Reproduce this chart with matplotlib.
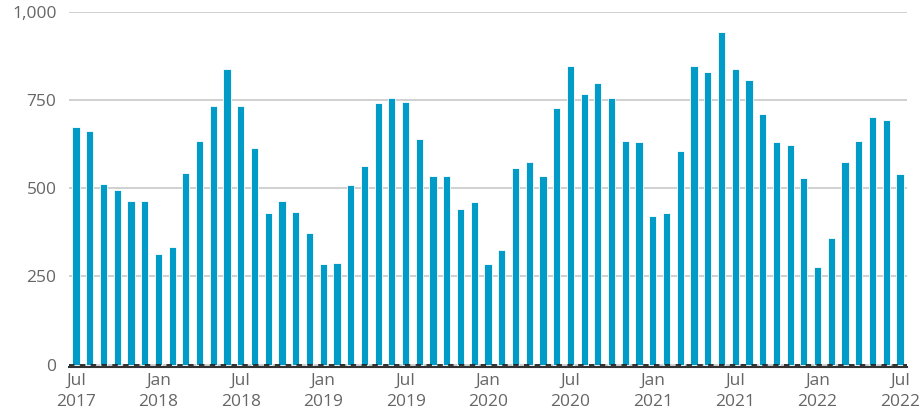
import numpy as np
import matplotlib.pyplot as plt

# Monthly values, Jul 2017 .. Jul 2022
months = ['Jul', 'Aug', 'Sep', 'Oct', 'Nov', 'Dec',
          'Jan', 'Feb', 'Mar', 'Apr', 'May', 'Jun']
start_year = 2017
values = [675, 662, 513, 496, 465, 465,
          314, 332, 544, 635, 733, 839,
          733, 614, 430, 465, 434, 372,
          285, 289, 509, 562, 741, 755,
          746, 641, 535, 535, 442, 460,
          284, 324, 557, 575, 535, 729,
          847, 768, 799, 755, 635, 632,
          420, 429, 605, 847, 830, 944,
          839, 808, 711, 632, 623, 530,
          276, 359, 575, 635, 703, 694,
          540]
yticks = [0, 250, 500, 750, 1000]

bar_color = '#009cc7'
text_color = '#666666'

plt.rcParams['font.family'] = ['Open Sans', 'DejaVu Sans']

fig = plt.figure(figsize=(9.21, 4.15), dpi=100)
ax = fig.add_axes([69/921, 1 - 367/415, (907 - 69)/921, (367 - 12)/415])

x = np.arange(len(values))
ax.bar(x, values, width=0.52, color=bar_color, edgecolor='white',
       linewidth=0.6, zorder=2)
ax.axhline(0, color='#222222', lw=1.3, ls=(0, (3, 3)), zorder=3)

ax.set_xlim(-0.51, len(values) - 0.49)
ax.set_ylim(-7, 1000)
ax.set_yticks(yticks)
ax.set_yticklabels(['{:,}'.format(v) for v in yticks])
ax.yaxis.grid(True, color='#c8c8c8', lw=1.2, zorder=0)
ax.set_axisbelow(True)

# ticks every 6 months
tick_pos = x[::6]
tick_lab = []
for i in tick_pos:
    year = start_year + (i + 6) // 12
    tick_lab.append('%s\n%d' % (months[i % 12], year))
ax.set_xticks(tick_pos)
ax.set_xticklabels(tick_lab, linespacing=1.45)

ax.tick_params(axis='both', length=0, labelsize=12.5, colors=text_color)
ax.tick_params(axis='y', pad=9)
ax.tick_params(axis='x', pad=4)

for s in ['top', 'right', 'left']:
    ax.spines[s].set_visible(False)
ax.spines['bottom'].set_color('#333333')
ax.spines['bottom'].set_linewidth(1.5)

fig.savefig('out.png', dpi=100)
